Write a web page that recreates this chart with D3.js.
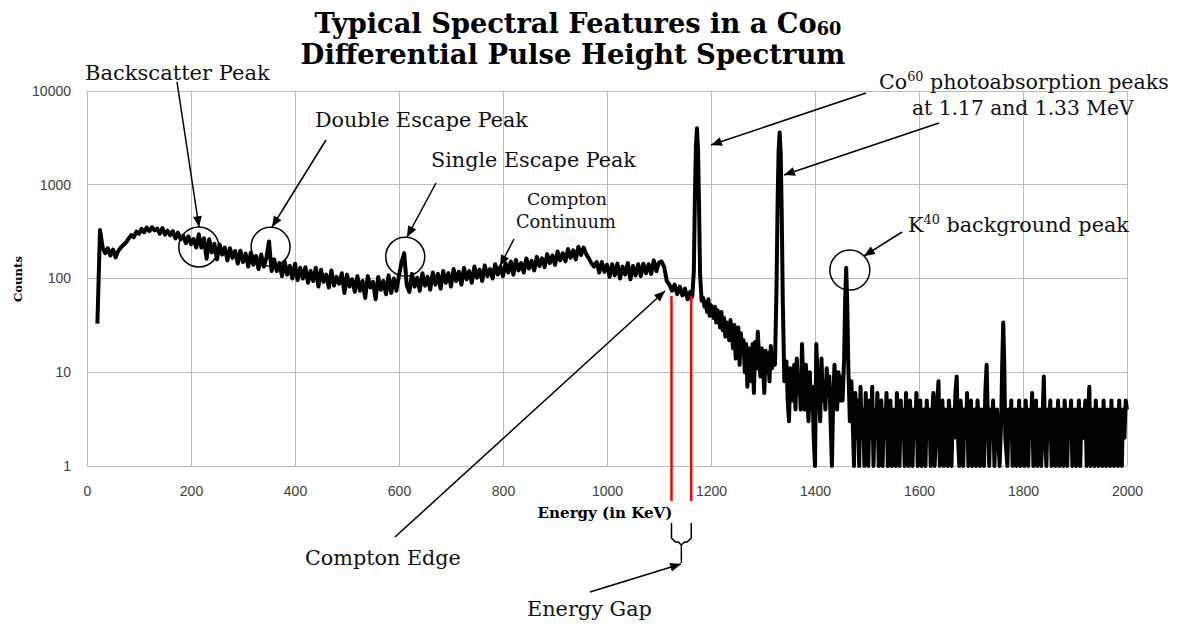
<!DOCTYPE html>
<html><head><meta charset="utf-8">
<script src="https://cdn.jsdelivr.net/npm/d3@7"></script>
<style>body{margin:0;background:#fff;} svg{display:block;}</style>
</head><body>
<svg id="chart" width="1182" height="630"></svg>
<script>
// ---------------- DATA ----------------
const xTicks = [0, 200, 400, 600, 800, 1000, 1200, 1400, 1600, 1800, 2000];
const yTicks = [1, 10, 100, 1000, 10000];

// 20 – 1160 keV, every 5 keV
const lowStartKeV = 20, lowStepKeV = 5;
const countsLow = [
  33, 330, 215, 186, 210, 176, 204, 168, 196, 214, 228, 242, 266, 290, 276, 316, 300, 338, 312, 350,
  320, 352, 326, 340, 300, 346, 294, 324, 290, 320, 268, 308, 262, 286, 238, 282, 232, 264, 214, 296,
  214, 268, 162, 262, 190, 234, 160, 230, 180, 214, 156, 210, 166, 196, 144, 198, 150, 184, 134, 188,
  140, 174, 126, 180, 134, 166, 248, 120, 160, 120, 146, 106, 152, 110, 136, 100, 144, 96, 130, 100,
  132, 90, 120, 94, 130, 82, 124, 92, 110, 80, 122, 84, 104, 88, 114, 70, 110, 82, 98, 72,
  106, 74, 94, 62, 106, 80, 92, 60, 104, 76, 94, 68, 108, 70, 100, 74, 108, 150, 186, 84,
  72, 112, 82, 102, 74, 114, 84, 104, 76, 116, 86, 112, 78, 120, 90, 114, 82, 126, 94, 118,
  86, 130, 98, 120, 90, 134, 102, 124, 94, 138, 106, 126, 100, 142, 110, 134, 106, 146, 116, 152,
  110, 158, 122, 146, 116, 164, 128, 154, 122, 170, 136, 164, 132, 182, 146, 176, 140, 194, 156, 186,
  152, 206, 166, 200, 160, 218, 178, 214, 182, 164, 146, 134, 150, 116, 150, 118, 140, 104, 142, 108,
  144, 100, 134, 110, 146, 98, 136, 108, 142, 106, 144, 114, 142, 112, 156, 120, 148, 152, 132, 94,
  86, 74, 86, 68, 82, 66, 78, 60, 72
];

// Co-60 photopeak at 1.17 MeV
const peak1Energies = [1164, 1167, 1169, 1171, 1173, 1175, 1177, 1179, 1182];
const peak1Counts   = [64, 120, 700, 2600, 4000, 2400, 600, 110, 58];

// 1185 – 1320 keV, every 2.5 keV
const midStartKeV = 1185, midStepKeV = 2.5;
const countsMid = [
  62, 50, 56, 44, 60, 40, 52, 46, 38, 50,
  34, 46, 40, 30, 44, 28, 38, 24, 34, 28,
  22, 36, 26, 18, 32, 14, 24, 30, 12, 26,
  16, 22, 10, 20, 7, 18, 12, 8, 20, 6,
  21, 11, 27, 14, 9, 18, 12, 6, 17, 10,
  16, 8, 19, 11, 15
];

// Co-60 photopeak at 1.33 MeV
const peak2Energies = [1323, 1326, 1328, 1330, 1332, 1334, 1336, 1338, 1341];
const peak2Counts   = [12, 80, 600, 2300, 3600, 2200, 500, 60, 8];

// 1345 – 1450 keV, every 2.5 keV
const tailStartKeV = 1345, tailStepKeV = 2.5;
const countsTail = [
  13, 5, 3, 11, 7, 5, 12, 4, 14, 6,
  9, 4, 20, 8, 4, 12, 6, 3, 10, 4,
  7, 2, 1, 20, 9, 6, 3, 14, 5, 8,
  4, 11, 6, 9, 3, 1, 5, 12, 7, 4,
  10, 5, 9
];

// K-40 background peak (1.46 MeV)
const k40Energies = [1453, 1456, 1458, 1460, 1462, 1464, 1467];
const k40Counts   = [5, 14, 60, 130, 55, 12, 3];

// 1470 – 1755 keV, every 2.5 keV
const farStartKeV = 1470, farStepKeV = 2.5;
const countsFar = [
  8, 3, 1, 6, 2, 5, 1, 7, 2, 4,
  1, 6, 3, 1, 5, 2, 7, 1, 4, 2,
  6, 1, 3, 5, 1, 4, 2, 6, 1, 3,
  5, 1, 4, 2, 1, 6, 3, 1, 5, 2,
  4, 1, 6, 2, 1, 5, 3, 1, 4, 2,
  6, 1, 3, 5, 1, 2, 4, 1, 5, 2,
  4, 1, 3, 6, 1, 2, 5, 8, 1, 3,
  5, 1, 4, 2, 1, 5, 3, 1, 4, 2,
  6, 9, 2, 1, 5, 3, 1, 4, 2, 6,
  1, 3, 5, 1, 2, 4, 1, 5, 3, 1,
  4, 2, 1, 6, 12, 3, 1, 4, 2, 5,
  1, 3, 4, 2, 1
];

// small peak near 1.76 MeV
const peak4Energies = [1758, 1760, 1762, 1764, 1766];
const peak4Counts   = [3, 12, 34, 12, 2];

// 1770 – 2000 keV, every 2.5 keV
const endStartKeV = 1770, endStepKeV = 2.5;
const countsEnd = [
  1, 4, 2, 5, 1, 3, 4, 1, 2, 5,
  1, 4, 2, 1, 5, 3, 1, 4, 2, 6,
  1, 3, 5, 1, 2, 4, 1, 3, 9, 2,
  1, 4, 2, 5, 1, 3, 4, 1, 2, 5,
  1, 4, 2, 1, 5, 3, 1, 4, 2, 5,
  1, 3, 4, 1, 2, 5, 1, 4, 2, 3,
  5, 1, 3, 7, 1, 2, 4, 1, 5, 2,
  1, 4, 3, 1, 5, 2, 1, 4, 3, 1,
  5, 2, 1, 4, 3, 1, 5, 2, 1, 4,
  2, 5, 4
];

// Energy gap markers (keV) and the count where they start
const gapEnergies = [1124, 1162];
const gapTopCount = 65;

// ---------------- BUILD ----------------
const stepped = (start, step, counts) => counts.map((c, i) => ({ e: start + i * step, c }));
const paired = (es, cs) => es.map((e, i) => ({ e, c: cs[i] }));
const spectrum = [].concat(
  stepped(lowStartKeV, lowStepKeV, countsLow),
  paired(peak1Energies, peak1Counts),
  stepped(midStartKeV, midStepKeV, countsMid),
  paired(peak2Energies, peak2Counts),
  stepped(tailStartKeV, tailStepKeV, countsTail),
  paired(k40Energies, k40Counts),
  stepped(farStartKeV, farStepKeV, countsFar),
  paired(peak4Energies, peak4Counts),
  stepped(endStartKeV, endStepKeV, countsEnd)
);

const svg = d3.select('#chart');
const P = { left: 87, right: 1127, top: 91, bottom: 466 };
const x = d3.scaleLinear().domain([0, 2000]).range([P.left, P.right]);
const y = d3.scaleLog().domain([1, 10000]).range([P.bottom, P.top]);

const serif = "'DejaVu Serif', 'Liberation Serif', serif";
const sans = "'Liberation Sans', Arial, sans-serif";

const defs = svg.append('defs');
defs.append('marker').attr('id', 'ah').attr('viewBox', '0 0 12 10')
  .attr('refX', 12).attr('refY', 5).attr('markerWidth', 12).attr('markerHeight', 9)
  .attr('markerUnits', 'userSpaceOnUse').attr('orient', 'auto')
  .append('path').attr('d', 'M0,0L12,5L0,10z').attr('fill', '#000');

// gridlines
const grid = svg.append('g').attr('stroke', '#bdbdbd').attr('stroke-width', 1).attr('shape-rendering', 'crispEdges');
grid.selectAll('line.v').data(xTicks).join('line').attr('class', 'v')
  .attr('x1', d => x(d)).attr('x2', d => x(d)).attr('y1', P.top).attr('y2', P.bottom);
grid.selectAll('line.h').data(yTicks).join('line').attr('class', 'h')
  .attr('x1', P.left).attr('x2', P.right).attr('y1', d => y(d)).attr('y2', d => y(d));

// axes
const ya = svg.append('g').attr('transform', `translate(${P.left},0)`)
  .call(d3.axisLeft(y).tickValues(yTicks).tickFormat(d3.format('d')).tickSize(0).tickPadding(16));
ya.select('.domain').remove();
ya.selectAll('text').attr('font-family', sans).attr('font-size', 14).attr('fill', '#404040');

const xa = svg.append('g').attr('transform', `translate(0,${P.bottom})`)
  .call(d3.axisBottom(x).tickValues(xTicks).tickFormat(d3.format('d')).tickSize(0).tickPadding(20));
xa.select('.domain').remove();
xa.selectAll('text').attr('font-family', sans).attr('font-size', 14).attr('fill', '#404040');

// spectrum line
const line = d3.line().x(d => x(d.e)).y(d => y(Math.max(1, d.c)));
svg.append('path').datum(spectrum).attr('d', line)
  .attr('fill', 'none').attr('stroke', '#000').attr('stroke-width', 4)
  .attr('stroke-linejoin', 'round');

// red energy-gap lines
svg.append('g').selectAll('line').data(gapEnergies).join('line')
  .attr('x1', d => x(d)).attr('x2', d => x(d))
  .attr('y1', y(gapTopCount)).attr('y2', P.bottom + 35)
  .attr('stroke', '#ff0000').attr('stroke-width', 2.5);

// bracket under the gap
const bx1 = x(gapEnergies[0]), bx2 = x(gapEnergies[1]), bxc = (bx1 + bx2) / 2;
const by0 = P.bottom + 57, by1 = P.bottom + 72, by2 = P.bottom + 76;
svg.append('path')
  .attr('d', `M${bx1},${by0}V${by1}L${bx1 + 4},${by2}H${bxc - 3}L${bxc},${by2 + 3}L${bxc + 3},${by2}H${bx2 - 4}L${bx2},${by1}V${by0}M${bxc},${by2 + 3}V${by2 + 21}`)
  .attr('fill', 'none').attr('stroke', '#000').attr('stroke-width', 1.5);

// helper: fit text to a target width
function fit(sel, target) {
  const w = sel.node().getComputedTextLength();
  const fs = parseFloat(sel.attr('font-size'));
  sel.attr('font-size', fs * target / w);
  return sel;
}

// titles
const t1 = svg.append('text').attr('x', 578).attr('y', 33).attr('text-anchor', 'middle')
  .attr('font-family', serif).attr('font-weight', 'bold').attr('font-size', 26);
t1.append('tspan').text('Typical Spectral Features in a Co');
t1.append('tspan').attr('font-size', '0.65em').attr('dy', '0.12em').text('60');
fit(t1, 527);
const t2 = svg.append('text').attr('x', 573).attr('y', 64).attr('text-anchor', 'middle')
  .attr('font-family', serif).attr('font-weight', 'bold').attr('font-size', 26)
  .text('Differential Pulse Height Spectrum');
fit(t2, 545);

// axis titles
fit(svg.append('text').attr('x', 605).attr('y', 518).attr('text-anchor', 'middle')
  .attr('font-family', serif).attr('font-weight', 'bold').attr('font-size', 13)
  .text('Energy (in KeV)'), 135);
fit(svg.append('text').attr('transform', 'translate(22,279) rotate(-90)').attr('text-anchor', 'middle')
  .attr('font-family', serif).attr('font-weight', 'bold').attr('font-size', 13)
  .text('Counts'), 46);

// annotation labels [text, x, y, width, size]
const labels = [
  ['Backscatter Peak', 85, 80, 185, 19],
  ['Double Escape Peak', 315, 127, 213, 19],
  ['Single Escape Peak', 431, 167, 205, 19],
  ['Compton', 527, 205, 80, 16],
  ['Continuum', 516, 228, 100, 16],
  ['at 1.17 and 1.33 MeV', 912, 115, 222, 19],
  ['Compton Edge', 305, 565, 156, 19],
  ['Energy Gap', 527, 616, 125, 19]
];
labels.forEach(([s, lx, ly, w, fs]) => {
  fit(svg.append('text').attr('x', lx).attr('y', ly).attr('font-family', serif)
    .attr('font-size', fs).attr('fill', '#111').text(s), w);
});
function supLabel(base, sup, rest, lx, ly, w) {
  const t = svg.append('text').attr('x', lx).attr('y', ly).attr('font-family', serif)
    .attr('font-size', 19).attr('fill', '#111');
  t.append('tspan').text(base);
  t.append('tspan').attr('font-size', '0.62em').attr('dy', '-0.6em').text(sup);
  t.append('tspan').attr('dy', '0.372em').text(rest);
  fit(t, w);
}
supLabel('Co', '60', ' photoabsorption peaks', 879, 89, 290);
supLabel('K', '40', ' background peak', 908, 232, 221);

// circles around features: [energy, counts, radius]
const circles = [[215, 217, 20], [353, 218, 19.5], [612, 171, 19.5], [1467, 123, 20]];
svg.append('g').selectAll('circle').data(circles).join('circle')
  .attr('cx', d => x(d[0])).attr('cy', d => y(d[1])).attr('r', d => d[2])
  .attr('fill', 'none').attr('stroke', '#000').attr('stroke-width', 1.5);

// arrows [x1,y1,x2,y2] (pixels)
const arrows = [
  [177, 82, 199, 227], [326, 140, 272, 227], [436, 183, 407, 237], [514, 239, 500, 266],
  [395, 537, 665, 291], [866, 93, 711, 145], [939, 123, 784, 175], [902, 232, 864, 256],
  [590, 592, 681, 564]
];
svg.append('g').selectAll('line').data(arrows).join('line')
  .attr('x1', d => d[0]).attr('y1', d => d[1]).attr('x2', d => d[2]).attr('y2', d => d[3])
  .attr('stroke', '#000').attr('stroke-width', 1.5).attr('marker-end', 'url(#ah)');
</script>
</body></html>
